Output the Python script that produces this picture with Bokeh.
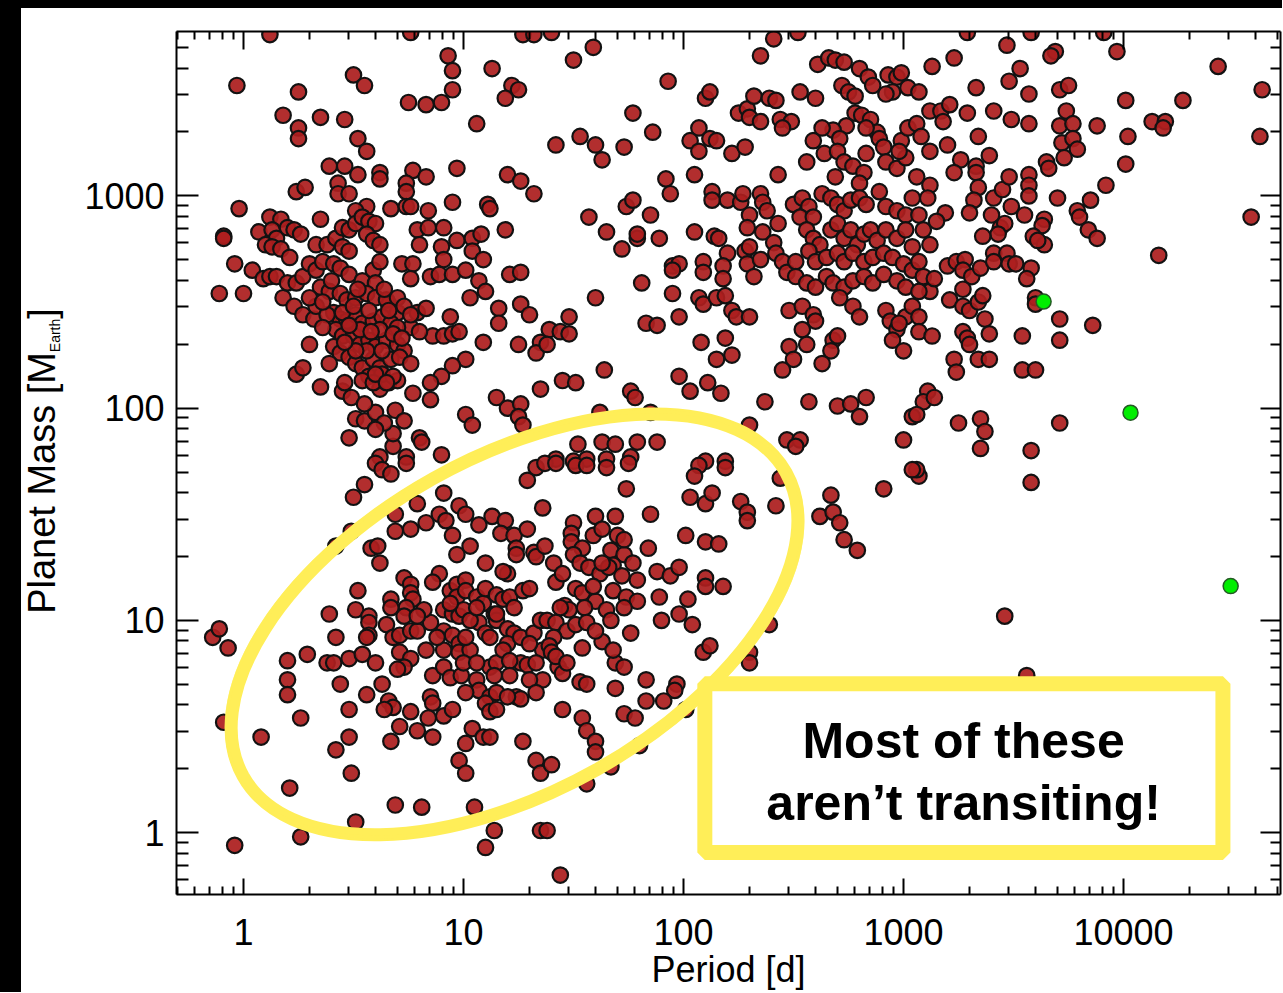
import math
from bokeh.plotting import figure
from bokeh.models import (FixedTicker, NumeralTickFormatter, LogAxis, BoxAnnotation,
                          Label, Range1d, Div, ColumnDataSource, CustomJSTickFormatter)
from bokeh.core.properties import value
from bokeh.layouts import row, column
from bokeh.embed import file_html
from bokeh.resources import INLINE

# ---------------- data (log10 period [d], log10 mass [M_Earth]) -------------
hot_jupiters_scatter = [
    (0.12,3.76),(0.76,3.77),(1.27,3.76),(1.32,3.76),(-0.03,3.52),(0.25,3.49),(0.50,3.57),(0.55,3.52),
    (0.93,3.66),(0.95,3.59),(0.95,3.50),(0.75,3.44),(0.83,3.43),(0.90,3.44),(1.13,3.60),(1.22,3.52),
    (1.25,3.50),(1.19,3.46),(1.06,3.34),(0.18,3.38),(0.35,3.37),(0.46,3.36),(0.25,3.32),(0.25,3.27),
    (0.52,3.27),(0.56,3.21),(0.39,3.14),(0.46,3.14),(0.52,3.10),(0.62,3.11),(0.62,3.08),(0.77,3.12),
    (0.83,3.09),(0.97,3.13),(1.20,3.10),(1.26,3.07),(1.32,3.01),(0.43,3.06),(0.43,3.01),(0.48,3.01),
    (0.24,3.02),(0.28,3.04),(0.74,3.06),(0.74,3.02),(0.95,2.97),(1.11,2.96),(1.12,2.94),(-0.02,2.94),
    (0.56,2.95),(0.51,2.93),(0.67,2.94),(0.74,2.95),(0.76,2.95),(0.84,2.93),(0.35,2.89),(0.12,2.90),
    (0.17,2.89),(-0.09,2.81),(-0.09,2.80),(0.07,2.83),(-0.04,2.68),(0.04,2.65),(-0.11,2.54),(0.00,2.54),
    (0.18,2.52),(0.30,2.30),(0.24,2.16),(0.27,2.19),(0.35,2.10),(0.79,2.84),(0.80,2.77),(0.84,2.85),
    (0.91,2.85),(0.90,2.76),(0.91,2.70),(0.97,2.79),(1.04,2.80),(1.08,2.82),(1.04,2.74),(1.09,2.70),
    (1.19,2.84),(0.72,2.68),(0.77,2.68),(0.76,2.61),(0.85,2.62),(0.89,2.63),(0.95,2.63),(1.01,2.65),
    (1.07,2.60),(1.10,2.55),(1.21,2.63),(1.26,2.64),(1.03,2.52),(1.16,2.47),(1.16,2.40),(1.26,2.49),
    (1.30,2.44),(1.35,2.31),(1.33,2.26),(1.25,2.30),(1.09,2.31),(1.01,2.23),(0.95,2.20),(0.86,2.34),
    (0.91,2.34),(0.95,2.35),(0.98,2.36),(0.94,2.43),(0.79,2.45),(0.83,2.47),(0.66,2.49),(0.70,2.45),
    (0.76,2.38),(0.80,2.36),(0.90,2.15),(0.85,2.12),(0.77,2.07),(0.85,2.04),(1.15,2.05),(1.20,2.00),
    (1.26,2.02),(1.25,1.96),(1.27,1.92),(1.35,2.09),(1.01,1.97),(1.04,1.92),(0.80,1.86),(0.81,1.84),
    (0.90,1.78),(0.74,1.77),(0.62,1.77),(0.48,1.86),(0.68,1.82),(0.68,1.88),(0.51,1.95),(0.55,1.94),
    (0.60,1.98),(0.64,1.93),(0.69,1.99),(0.73,1.94),(0.60,1.90),(0.45,2.08),(0.49,2.05),(0.55,2.02),
    (0.46,2.12),(0.62,2.09),(0.66,2.12),(0.70,2.13),
]
hot_jupiters_core = [
    (0.13,2.84),(0.15,2.80),(0.20,2.85),(0.23,2.84),(0.26,2.82),(0.10,2.77),(0.13,2.76),(0.17,2.75),
    (0.21,2.71),(0.09,2.61),(0.12,2.62),(0.15,2.62),(0.20,2.59),(0.24,2.59),(0.27,2.62),(0.30,2.68),
    (0.33,2.65),(0.36,2.69),(0.33,2.77),(0.38,2.77),(0.42,2.80),(0.45,2.85),(0.48,2.84),(0.51,2.87),
    (0.54,2.90),(0.57,2.88),(0.60,2.87),(0.56,2.82),(0.59,2.79),(0.62,2.77),(0.45,2.76),(0.48,2.74),
    (0.41,2.68),(0.44,2.66),(0.48,2.63),(0.54,2.60),(0.59,2.65),(0.62,2.69),(0.60,2.59),(0.35,2.57),
    (0.39,2.55),(0.44,2.54),(0.47,2.51),(0.51,2.52),(0.56,2.54),(0.60,2.52),(0.65,2.51),(0.70,2.52),
    (0.73,2.48),(0.76,2.44),(0.41,2.45),(0.44,2.42),(0.47,2.41),(0.51,2.44),(0.54,2.40),(0.59,2.41),
    (0.63,2.43),(0.67,2.40),(0.70,2.38),(0.42,2.37),(0.45,2.34),(0.50,2.34),(0.53,2.30),(0.57,2.32),
    (0.60,2.29),(0.65,2.32),(0.70,2.30),(0.73,2.27),(0.41,2.29),(0.44,2.26),(0.48,2.24),(0.51,2.21),
    (0.54,2.19),(0.59,2.23),(0.62,2.19),(0.67,2.23),(0.71,2.24),(0.76,2.21),(0.39,2.21),(0.57,2.15),
    (0.63,2.16),(0.68,2.15),(0.54,2.13),(0.23,2.48),(0.27,2.44),(0.32,2.42),(0.33,2.48),(0.38,2.44),
    (0.36,2.38),(0.45,2.45),(0.50,2.48),(0.53,2.37),(0.56,2.27),(0.62,2.37),(0.63,2.27),(0.68,2.35),
    (0.51,2.27),(0.48,2.39),(0.59,2.12),(0.60,2.16),(0.65,2.12),(0.30,2.52),(0.36,2.50),(0.40,2.60),
    (0.52,2.56),(0.57,2.46),(0.66,2.46),(0.72,2.33),(0.46,2.31),(0.58,2.36),(0.64,2.56),
]
giants_mid = [
    (1.40,3.77),(1.59,3.70),(1.50,3.64),(1.93,3.54),(2.35,3.66),(2.41,3.74),(2.52,3.77),(1.77,3.39),
    (1.86,3.30),(1.53,3.28),(1.60,3.24),(1.63,3.17),(1.73,3.23),(1.42,3.24),(2.10,3.46),(2.12,3.49),
    (2.07,3.32),(2.03,3.26),(2.07,3.21),(2.12,3.27),(2.15,3.26),(1.92,3.08),(1.94,3.01),(2.05,3.10),
    (2.22,3.20),(2.28,3.23),(2.25,3.39),(2.29,3.41),(2.32,3.47),(2.30,3.37),(2.35,3.35),(2.39,3.46),
    (2.42,3.45),(2.44,3.36),(2.49,3.35),(2.45,3.32),(2.43,3.10),(2.53,3.49),(2.60,3.46),(2.56,3.16),
    (2.59,3.26),(2.61,3.62),(2.66,3.65),(2.69,3.64),(2.73,3.63),(2.80,3.60),(2.72,3.52),(2.75,3.49),
    (2.78,3.47),(2.84,3.56),(2.86,3.52),(2.93,3.57),(2.97,3.56),(2.99,3.58),(3.02,3.51),(2.95,3.49),
    (2.92,3.48),(2.78,3.39),(2.81,3.38),(2.85,3.36),(2.74,3.33),(2.68,3.31),(2.71,3.27),(2.63,3.32),
    (2.88,3.30),(2.89,3.27),(2.83,3.32),(2.64,3.20),(2.70,3.21),(2.73,3.16),(2.77,3.14),(2.82,3.11),
    (2.80,3.06),(2.83,3.20),(2.91,3.23),(2.92,3.16),(2.97,3.13),(3.01,3.18),(2.99,3.26),(3.02,3.32),
    (2.98,3.21),(2.69,3.09),(2.13,3.02),(2.13,2.98),(2.20,2.98),(2.26,2.97),(2.27,3.01),(2.35,3.01),
    (2.36,2.97),(2.38,2.93),(1.74,2.95),(1.77,2.98),(1.85,2.91),(1.57,2.90),(1.65,2.83),(1.72,2.75),
    (1.79,2.80),(1.79,2.82),(1.89,2.80),(2.05,2.83),(2.14,2.81),(2.16,2.80),(2.30,2.91),(2.29,2.85),
    (2.36,2.83),(2.41,2.78),(2.43,2.87),(2.20,2.73),(2.28,2.74),(2.30,2.76),(1.95,2.67),(1.98,2.68),
    (1.95,2.65),(2.09,2.69),(2.09,2.64),(2.18,2.67),(2.18,2.61),(2.29,2.68),(2.32,2.62),(2.35,2.70),
    (2.42,2.73),(2.45,2.69),(2.47,2.64),(2.51,2.69),(1.81,2.59),(1.60,2.52),(1.95,2.54),(2.07,2.52),
    (2.09,2.49),(2.15,2.52),(2.19,2.53),(2.22,2.46),(2.24,2.43),(2.30,2.43),(1.98,2.43),(1.83,2.40),
    (1.88,2.39),(1.48,2.43),(1.39,2.37),(1.44,2.36),(1.48,2.35),(1.38,2.30),(2.08,2.31),(2.19,2.33),
    (2.22,2.25),(2.15,2.23),(1.64,2.18),(1.45,2.13),(1.51,2.12),(1.98,2.15),(2.03,2.08),(2.11,2.12),
    (2.17,2.07),(1.76,2.08),(1.78,2.05),(2.37,2.03),(2.57,2.03),(2.70,2.01),(2.76,2.02),(2.83,2.05),
    (2.80,1.96),(3.00,1.85),(3.04,1.96),(2.30,1.92),(2.47,1.85),(2.53,1.85),(2.51,1.82),(1.62,1.98),
    (1.85,1.98),(1.52,1.83),(1.63,1.84),(1.69,1.83),(1.79,1.84),(1.88,1.84),(1.42,1.76),(1.50,1.75),
    (1.56,1.76),(1.65,1.76),(1.76,1.77),(2.10,1.75),(2.19,1.75),
]
giants_core = [
    (2.50,2.96),(2.54,2.99),(2.57,2.95),(2.53,2.90),(2.59,2.90),(2.63,3.01),(2.67,2.99),(2.70,2.96),
    (2.73,2.93),(2.76,2.98),(2.80,2.99),(2.83,2.96),(2.89,3.02),(2.92,2.95),(2.97,2.93),(3.01,2.91),
    (3.04,2.99),(2.56,2.84),(2.59,2.80),(2.62,2.77),(2.67,2.84),(2.70,2.87),(2.73,2.80),(2.76,2.84),
    (2.79,2.77),(2.82,2.82),(2.85,2.84),(2.88,2.79),(2.92,2.84),(2.97,2.80),(3.01,2.84),(3.04,2.76),
    (2.57,2.74),(2.60,2.69),(2.65,2.71),(2.70,2.73),(2.73,2.69),(2.77,2.73),(2.82,2.69),(2.86,2.71),
    (2.91,2.73),(2.95,2.71),(3.00,2.68),(3.04,2.65),(2.51,2.62),(2.56,2.59),(2.60,2.57),(2.65,2.62),
    (2.68,2.59),(2.73,2.57),(2.77,2.60),(2.82,2.62),(2.86,2.59),(2.91,2.63),(2.97,2.60),(3.01,2.57),
    (2.71,2.52),(2.77,2.48),(2.80,2.43),(2.48,2.46),(2.54,2.48),(2.59,2.44),(2.60,2.41),(2.54,2.37),
    (2.56,2.30),(2.48,2.29),(2.50,2.23),(2.45,2.18),(2.68,2.32),(2.67,2.27),(2.63,2.21),(2.70,2.34),
    (2.92,2.46),(2.94,2.41),(2.97,2.37),(3.01,2.43),(3.04,2.48),(2.95,2.32),(3.00,2.27),(2.98,2.40),
]
giants_long = [
    (3.29,3.77),(3.47,3.71),(3.58,3.77),(3.91,3.77),(3.97,3.68),(3.69,3.68),(3.67,3.66),(3.13,3.61),
    (3.23,3.65),(3.07,3.49),(3.33,3.51),(3.48,3.54),(3.53,3.60),(3.57,3.48),(3.71,3.50),(3.75,3.52),
    (4.43,3.61),(4.63,3.50),(4.27,3.45),(4.01,3.45),(3.12,3.40),(3.17,3.40),(3.21,3.43),(3.18,3.35),
    (3.29,3.39),(3.41,3.40),(3.49,3.36),(3.57,3.34),(3.74,3.40),(3.71,3.33),(3.77,3.34),(3.72,3.25),
    (3.77,3.27),(3.79,3.22),(3.73,3.18),(3.88,3.33),(4.02,3.28),(4.01,3.15),(4.13,3.35),(4.19,3.35),
    (4.18,3.32),(4.62,3.28),(3.06,3.34),(3.08,3.28),(3.12,3.21),(3.20,3.24),(3.34,3.28),(3.26,3.17),
    (3.23,3.11),(3.33,3.14),(3.33,3.11),(3.39,3.19),(3.34,3.04),(3.32,2.98),(3.30,2.92),(3.41,2.99),
    (3.45,3.03),(3.48,3.09),(3.57,3.10),(3.57,3.05),(3.57,3.00),(3.65,3.16),(3.66,3.13),(3.70,2.99),
    (3.92,3.05),(3.85,2.98),(3.79,2.93),(3.80,2.90),(3.84,2.84),(3.88,2.80),(4.58,2.90),(4.16,2.72),
    (3.06,3.09),(3.12,3.05),(3.11,2.99),(3.07,2.91),(3.09,2.84),(3.12,2.77),(3.19,2.92),(3.15,2.88),
    (3.40,2.91),(3.44,2.85),(3.46,2.87),(3.43,2.82),(3.36,2.81),(3.49,2.95),(3.55,2.91),(3.64,2.89),
    (3.63,2.86),(3.59,2.81),(3.64,2.77),(3.61,2.79),(3.07,2.69),(3.09,2.62),(3.12,2.55),(3.14,2.61),
    (3.07,2.55),(3.20,2.67),(3.24,2.69),(3.28,2.70),(3.27,2.65),(3.31,2.62),(3.35,2.66),(3.41,2.73),
    (3.41,2.69),(3.47,2.73),(3.48,2.68),(3.51,2.68),(3.58,2.66),(3.56,2.61),(3.27,2.56),(3.21,2.51),
    (3.27,2.48),(3.30,2.46),(3.34,2.50),(3.36,2.53),(3.60,2.52),(3.60,2.49),(3.07,2.43),(3.07,2.36),
    (3.13,2.34),(3.27,2.36),(3.29,2.33),(3.30,2.30),(3.37,2.42),(3.39,2.35),(3.54,2.34),(3.71,2.42),
    (3.71,2.32),(3.86,2.39),(3.23,2.23),(3.24,2.17),(3.34,2.23),(3.39,2.23),(3.54,2.18),(3.60,2.18),
    (3.11,2.08),(3.09,2.03),(3.14,2.05),(3.06,1.97),(3.25,1.93),(3.35,1.95),(3.37,1.89),(3.71,1.93),
    (3.35,1.81),(3.58,1.80),(3.07,1.68),(3.06,1.71),(3.58,1.65),(3.46,1.02),(3.56,0.74),
]
low_mass_inner = [
    (0.60,1.74),(0.63,1.71),(0.67,1.69),(0.74,1.74),(0.55,1.64),(0.50,1.58),(1.29,1.66),(1.33,1.72),
    (1.37,1.74),(1.36,1.53),(0.42,1.35),(0.49,1.42),(0.69,1.50),(0.91,1.60),(0.79,1.55),(0.69,1.42),
    (0.76,1.43),(0.83,1.46),(0.89,1.50),(0.92,1.47),(0.98,1.54),(1.01,1.50),(0.95,1.40),(0.97,1.31),
    (1.03,1.35),(1.07,1.45),(1.13,1.49),(1.19,1.47),(1.17,1.41),(1.23,1.40),(1.29,1.43),(1.24,1.34),
    (1.24,1.31),(1.32,1.32),(1.33,1.30),(1.37,1.35),(0.58,1.34),(0.61,1.35),(0.62,1.27),(1.10,1.27),
    (0.73,1.20),(0.76,1.17),(0.76,1.13),(0.77,1.10),(0.74,1.06),(0.73,1.02),(0.67,1.10),(0.67,1.06),
    (0.65,0.98),(0.52,1.14),(0.51,1.05),(0.57,1.02),(0.57,0.99),(0.57,0.93),(0.56,0.92),(0.39,1.03),
    (0.42,0.92),(0.68,0.92),(0.71,0.93),(0.76,0.95),(0.79,0.95),(0.89,1.22),(0.86,1.18),(0.94,1.14),
    (0.97,1.17),(1.01,1.19),(0.97,1.11),(0.91,1.05),(0.95,1.03),(0.98,1.02),(1.00,1.05),(1.01,1.14),
    (1.06,1.11),(1.09,1.08),(1.10,1.15),(1.15,1.12),(1.18,1.10),(1.20,1.22),(1.18,1.23),(1.21,1.11),
    (1.23,1.06),(1.27,1.14),(1.30,1.15),(1.14,1.03),(1.15,1.00),(0.91,0.95),(0.95,0.93),(0.98,0.89),
    (0.98,0.85),(1.03,0.86),(1.01,0.92),(1.07,0.99),(1.10,0.94),(1.12,0.92),(1.15,1.03),(1.20,0.96),
    (1.23,0.94),(1.20,0.89),(1.26,0.92),(1.32,0.94),(1.35,1.00),(1.36,0.86),(0.20,0.81),(0.29,0.84),
    (0.20,0.72),(0.20,0.65),(0.26,0.54),(0.38,0.80),(0.41,0.80),(0.48,0.82),(0.54,0.84),(0.60,0.80),
    (0.44,0.70),(0.71,0.85),(0.76,0.82),(0.73,0.78),(0.70,0.77),(0.63,0.70),(0.83,0.86),(0.86,0.74),
    (0.91,0.78),(0.94,0.73),(0.85,0.64),(0.86,0.61),(0.91,0.55),(0.56,0.65),(0.66,0.62),(0.68,0.59),
    (0.64,0.58),(0.76,0.57),(0.71,0.50),(0.79,0.48),(0.84,0.54),(0.86,0.45),(0.95,0.58),(0.48,0.58),
    (0.48,0.45),(0.42,0.39),(0.49,0.28),(0.67,0.43),(0.99,0.74),(1.06,0.72),(1.07,0.67),(1.12,0.78),
    (1.15,0.80),(1.14,0.74),(1.12,0.64),(1.15,0.66),(1.10,0.61),(1.12,0.57),(1.01,0.66),(1.04,0.49),
    (1.01,0.42),(1.09,0.45),(1.12,0.45),(0.98,0.34),(1.01,0.28),(1.26,0.80),(1.29,0.79),(1.24,0.64),
    (1.26,0.63),(1.27,0.43),(1.33,0.34),(1.35,0.28),(0.08,0.45),(0.21,0.21),(0.26,-0.02),(-0.04,-0.06),
    (-0.14,0.92),(-0.11,0.96),(-0.07,0.87),(-0.09,0.52),(0.51,0.05),(0.69,0.13),(0.81,0.12),(1.05,0.12),
    (1.14,0.01),(1.10,-0.07),(1.35,0.01),(0.94,1.08),(1.03,1.00),(1.06,1.06),(1.00,0.80),(1.06,0.80),
    (1.18,0.86),(1.21,0.81),(1.30,0.89),(1.33,0.80),(1.36,0.72),(0.91,0.86),(0.88,0.92),(0.85,0.99),
    (0.82,1.05),(0.79,1.02),(1.15,0.58),(1.20,0.64),(1.30,0.72),(1.33,0.66),(1.21,0.74),
]
low_mass_outer = [
    (1.42,1.74),(1.51,1.73),(1.56,1.73),(1.65,1.72),(1.75,1.74),(2.07,1.73),(2.19,1.72),(2.05,1.68),
    (2.03,1.58),(2.10,1.55),(2.13,1.60),(1.74,1.62),(2.26,1.56),(2.29,1.51),(2.29,1.47),(2.42,1.54),
    (2.44,1.67),(1.85,1.50),(1.69,1.49),(1.60,1.49),(1.50,1.46),(1.49,1.41),(1.49,1.37),(1.59,1.40),
    (1.63,1.43),(1.70,1.40),(1.54,1.34),(1.50,1.31),(1.53,1.27),(1.57,1.25),(1.62,1.22),(1.67,1.33),
    (1.73,1.31),(1.68,1.26),(1.72,1.21),(1.66,1.25),(2.01,1.40),(2.10,1.37),(2.16,1.36),(1.84,1.34),
    (1.88,1.23),(1.94,1.21),(1.98,1.25),(2.10,1.20),(2.10,1.16),(2.18,1.16),(1.42,1.18),(1.51,1.15),
    (1.54,1.13),(1.60,1.09),(1.68,1.14),(1.74,1.11),(1.79,1.09),(1.73,1.06),(1.46,1.07),(1.48,1.05),
    (1.44,1.06),(1.55,1.06),(1.65,1.05),(1.67,1.00),(1.89,1.11),(1.90,1.00),(1.98,1.03),(2.02,1.10),
    (2.04,0.98),(1.38,1.00),(1.42,0.99),(1.47,0.95),(1.51,0.98),(1.41,0.92),(1.39,0.88),(1.40,0.85),
    (1.43,0.78),(1.45,0.75),(1.54,0.87),(1.63,0.90),(1.76,0.94),(2.09,0.85),(2.12,0.88),(1.69,0.80),
    (1.73,0.78),(2.30,0.85),(2.30,0.80),(2.39,0.98),(1.53,0.71),(1.56,0.70),(1.69,0.68),(1.83,0.72),
    (1.97,0.70),(1.96,0.67),(1.91,0.62),(2.01,0.58),(1.83,0.62),(1.73,0.56),(1.78,0.54),(1.45,0.58),
    (1.54,0.54),(1.56,0.48),(1.60,0.43),(1.60,0.38),(1.67,0.31),(1.56,0.23),(1.40,0.32),(1.80,0.41),
    (1.38,0.01),(1.44,-0.20),(2.62,1.49),(2.67,1.59),(2.68,1.51),(2.71,1.46),(2.73,1.38),(2.79,1.33),
    (2.91,1.62),(3.04,1.71),(1.41,1.27),(1.45,1.22),(1.59,1.16),(1.63,1.27),(1.73,1.38),(1.77,1.27),
    (1.79,1.19),(1.56,0.99),(1.60,0.95),(1.68,0.86),(1.42,0.83),(1.47,0.80),
]
# Solar-system planets (green): Jupiter, Saturn, Uranus
solar_period = [4333, 10759, 30687]
solar_mass = [317.8, 95.2, 14.5]

x_major_ticks = [1, 10, 100, 1000, 10000]
y_major_ticks = [1, 10, 100, 1000]
x_title = "Period [d]"
y_title_parts = ["Planet Mass [M", "Earth", "]"]
note_lines = ["Most of these", "aren\u2019t transiting!"]

# ---------------- build ----------------
all_pts = (hot_jupiters_scatter + hot_jupiters_core + giants_mid + giants_core +
           giants_long + low_mass_inner + low_mass_outer)
src = ColumnDataSource(dict(period=[10 ** a for a, b in all_pts],
                            mass=[10 ** b for a, b in all_pts]))

FONT = "Liberation Sans"
X0, X1 = 0.496, 51700.0
Y0, Y1 = 0.511, 5950.0
H = 984
TW = 44  # width of the y-title strip
FRAME_H = 866  # frame height shared by both plots in the row (page y 31..897)

p = figure(width=1261 - TW, height=H, x_axis_type="log", y_axis_type="log",
           x_range=Range1d(X0, X1), y_range=Range1d(Y0, Y1),
           output_backend="svg", toolbar_location=None,
           min_border_left=155 - TW, min_border_right=2, min_border_top=23, min_border_bottom=95)
p.grid.visible = False
p.outline_line_color = None
p.background_fill_color = "white"
p.border_fill_color = "white"

def minors(lo, hi):
    out = []
    e = -1
    while 10 ** e <= hi:
        for m in range(2, 10):
            v = m * 10 ** e
            if lo <= v <= hi:
                out.append(v)
        e += 1
    return out

def style(ax, ticker, maj, mnr, labels):
    ax.ticker = ticker
    ax.major_tick_in = maj
    ax.major_tick_out = 0
    ax.minor_tick_in = mnr
    ax.minor_tick_out = 0
    ax.axis_line_width = 2
    ax.major_tick_line_width = 2
    ax.minor_tick_line_width = 2
    ax.axis_line_color = "black"
    ax.major_tick_line_color = "black"
    ax.minor_tick_line_color = "black"
    if labels:
        ax.formatter = NumeralTickFormatter(format="0")
        ax.major_label_text_font = FONT
        ax.major_label_text_font_size = "36px"
        ax.major_label_text_color = "black"
    else:
        ax.formatter = CustomJSTickFormatter(code="return ''")
        ax.major_label_standoff = 0
        ax.major_label_text_font_size = "10px"

xa = p.xaxis[0]
style(xa, FixedTicker(ticks=x_major_ticks, minor_ticks=minors(X0, X1)), 16, 8, True)
xa.major_label_standoff = 24
xa.axis_label = x_title
xa.axis_label_text_font = FONT
xa.axis_label_text_font_size = "36px"
xa.axis_label_text_font_style = "normal"
xa.axis_label_text_color = "black"
xa.axis_label_standoff = 1

ya = p.yaxis[0]
style(ya, FixedTicker(ticks=y_major_ticks, minor_ticks=minors(Y0, Y1)), 22, 12, True)
ya.major_label_standoff = 12

top_ax = LogAxis()
style(top_ax, FixedTicker(ticks=x_major_ticks, minor_ticks=minors(X0, X1)), 18, 8, False)
p.add_layout(top_ax, "above")
right_ax = LogAxis()
style(right_ax, FixedTicker(ticks=y_major_ticks, minor_ticks=minors(Y0, Y1)), 20, 10, False)
p.add_layout(right_ax, "right")

p.scatter("period", "mass", source=src, size=15.5, marker="circle",
          fill_color="#AC1E1E", fill_alpha=0.93, line_color="#121212", line_width=2.2)
p.scatter(solar_period, solar_mass, size=15, marker="circle",
          fill_color="#00EE00", line_color="#245A24", line_width=1.5)

YEL = "#FFEE58"
# hand-drawn ellipse around the low-mass planets
p.ellipse(x=[17.06], y=[9.58], width=622, height=334, angle=0.51,
          width_units="screen", height_units="screen",
          fill_alpha=0, line_color=YEL, line_width=13)
p.ellipse(x=[17.06], y=[9.58], width=630, height=342, angle=0.50,
          width_units="screen", height_units="screen",
          fill_alpha=0, line_color=YEL, line_width=3, line_alpha=0.7)

box = BoxAnnotation(left=125, right=28300, top=5.03, bottom=0.805,
                    fill_color="white", fill_alpha=1.0,
                    line_color=YEL, line_width=15, line_alpha=1.0)
p.add_layout(box)

for txt, yv in zip(note_lines, [2.70, 1.383]):
    p.add_layout(Label(x=1875, y=yv, text=txt, text_font=FONT, text_font_style="bold",
                       text_font_size="50px", text_align="center",
                       text_baseline="alphabetic", text_color="black"))

# y-axis title with subscript, drawn in its own narrow strip left of the plot
# (its frame is aligned with the main frame: y=0 at the x-axis line, y=866 at the top)
yt = figure(width=TW, height=H, x_range=Range1d(0, TW), y_range=Range1d(0, FRAME_H),
            output_backend="svg", toolbar_location=None, min_border=0, title=None,
            x_axis_location=None, y_axis_location=None)
yt.grid.visible = False
yt.outline_line_color = None
yt.border_fill_color = "white"
yt.background_fill_color = "white"
yt.text(x=[20], y=[413], text=[y_title_parts[0]], angle=math.pi / 2,
        text_font=value(FONT), text_font_size="38px", text_align="center",
        text_baseline="middle", text_color="black")
yt.text(x=[33], y=[561], text=[y_title_parts[1]], angle=math.pi / 2,
        text_font=value(FONT), text_font_size="14px", text_align="center",
        text_baseline="middle", text_color="black")
yt.text(x=[20], y=[583], text=[y_title_parts[2]], angle=math.pi / 2,
        text_font=value(FONT), text_font_size="38px", text_align="center",
        text_baseline="middle", text_color="black")

top_strip = Div(text="", width=1282, height=8, margin=0, styles={"background-color": "black"})
left_strip = Div(text="", width=21, height=H, margin=0, styles={"background-color": "black"})
layout = column(top_strip, row(left_strip, yt, p, spacing=0), spacing=0)

open("out.html", "w").write(file_html(layout, INLINE))
